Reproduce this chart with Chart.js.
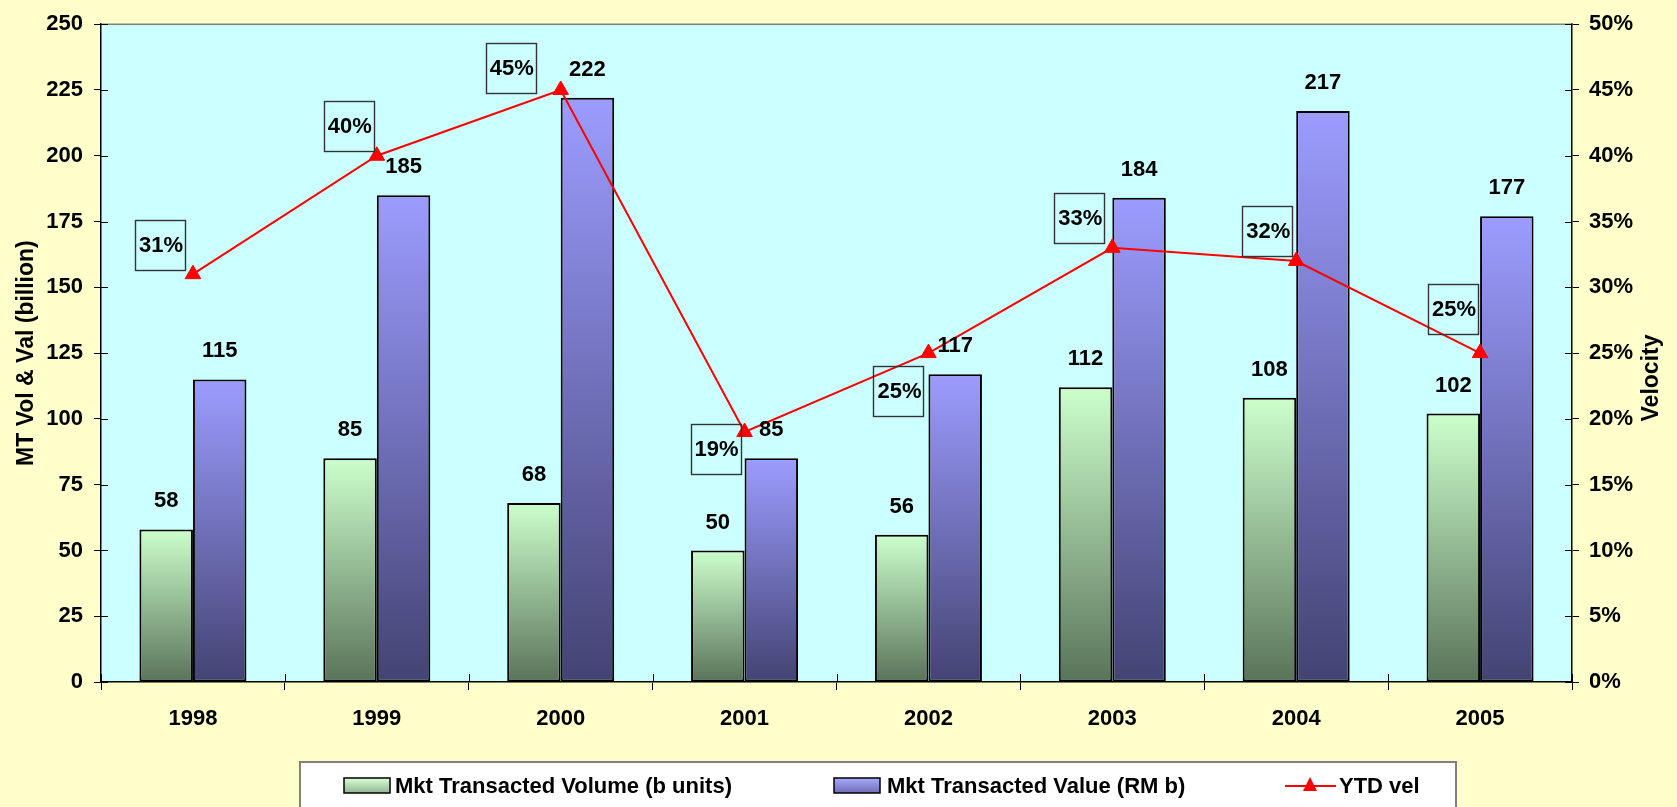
<!DOCTYPE html>
<html>
<head>
<meta charset="utf-8">
<title>MT Volume, Value and Velocity 1998-2005</title>
<script src="https://cdn.jsdelivr.net/npm/chart.js@4/dist/chart.umd.min.js"></script>
<style>
  html, body { margin: 0; padding: 0; background: #FFFFCC; }
  #wrap { width: 1677px; height: 807px; }
</style>
</head>
<body>
<div id="wrap"><canvas id="c" width="1677" height="807"></canvas></div>
<script>
// ---- data ----
const years = ['1998', '1999', '2000', '2001', '2002', '2003', '2004', '2005'];
const mktVolume = [58, 85, 68, 50, 56, 112, 108, 102];      // b units
const mktValue = [115, 185, 222, 85, 117, 184, 217, 177];   // RM b
const ytdVelocity = [31, 40, 45, 19, 25, 33, 32, 25];       // %
const seriesNames = ['Mkt Transacted Volume (b units)', 'Mkt Transacted Value (RM b)', 'YTD vel'];
const leftTitle = 'MT Vol & Val (billion)';
const rightTitle = 'Velocity';

// placement of the boxed velocity labels, relative to each point (px)
const velLabelShiftX = [-33, -28, -50, -29, -30, -33, -29, -27];
const velLabelShiftY = [-29, -30, -22, 17, 38, -30, -30, -44];

// ---- styling ----
const FONT = "'Liberation Sans', Arial, Helvetica, sans-serif";
const GREEN_TOP = '#CCFFCC', GREEN_BOTTOM = '#5A735A';
const BLUE_TOP = '#9C9CFF', BLUE_BOTTOM = '#434373';

function barGradient(top, bottom) {
  return function (ctx) {
    const chart = ctx.chart;
    if (!chart.chartArea || ctx.type !== 'data') return top;
    const ys = chart.scales.y;
    const yTop = ys.getPixelForValue(ctx.raw);
    const yBase = ys.getPixelForValue(0);
    if (!isFinite(yTop) || !isFinite(yBase) || yTop === yBase) return top;
    const g = chart.ctx.createLinearGradient(0, yTop, 0, yBase);
    g.addColorStop(0, top);
    g.addColorStop(1, bottom);
    return g;
  };
}

// plot background, frame, inner tick halves, axis titles
const framePlugin = {
  id: 'frame',
  beforeDraw(chart) {
    const { ctx, chartArea: a } = chart;
    ctx.save();
    ctx.fillStyle = '#CCFFFF';
    ctx.fillRect(a.left, a.top, a.right - a.left, a.bottom - a.top);
    ctx.restore();
  },
  afterDraw(chart) {
    const { ctx, chartArea: a, scales } = chart;
    ctx.save();
    // top edge of plot
    ctx.strokeStyle = '#808080';
    ctx.lineWidth = 1.5;
    ctx.beginPath();
    ctx.moveTo(a.left, a.top);
    ctx.lineTo(a.right, a.top);
    ctx.stroke();
    // inner halves of tick marks
    ctx.strokeStyle = '#000';
    ctx.lineWidth = 1;
    ctx.beginPath();
    scales.y.ticks.forEach(t => {
      const y = Math.round(scales.y.getPixelForValue(t.value)) + 0.5;
      ctx.moveTo(a.left, y); ctx.lineTo(a.left + 7, y);
    });
    scales.y1.ticks.forEach(t => {
      const y = Math.round(scales.y1.getPixelForValue(t.value)) + 0.5;
      ctx.moveTo(a.right - 7, y); ctx.lineTo(a.right, y);
    });
    const n = years.length;
    for (let i = 0; i <= n; i++) {
      const x = Math.round(a.left + (a.right - a.left) * i / n) + 0.5;
      ctx.moveTo(x, a.bottom); ctx.lineTo(x, a.bottom - 8);
    }
    ctx.stroke();

    // axis titles
    ctx.fillStyle = '#000';
    ctx.font = 'bold 23px ' + FONT;
    ctx.textAlign = 'center';
    ctx.textBaseline = 'middle';
    ctx.save();
    ctx.translate(27, (a.top + a.bottom) / 2);
    ctx.rotate(-Math.PI / 2);
    ctx.fillText(leftTitle, 0, 0);
    ctx.restore();
    ctx.save();
    ctx.translate(1652, 378);
    ctx.rotate(-Math.PI / 2);
    ctx.fillText(rightTitle, 0, 0);
    ctx.restore();
    ctx.restore();
  }
};

// value labels above bars and boxed labels at velocity points
const labelPlugin = {
  id: 'valueLabels',
  afterDatasetsDraw(chart) {
    const ctx = chart.ctx;
    ctx.save();
    ctx.font = 'bold 22px ' + FONT;
    ctx.fillStyle = '#000';
    ctx.textAlign = 'center';
    ctx.textBaseline = 'middle';
    [0, 1].forEach(di => {
      const meta = chart.getDatasetMeta(di);
      const vals = chart.data.datasets[di].data;
      meta.data.forEach((el, i) => {
        ctx.fillText(String(vals[i]), el.x, el.y - 28);
      });
    });
    const lineMeta = chart.getDatasetMeta(2);
    const vel = chart.data.datasets[2].data;
    lineMeta.data.forEach((el, i) => {
      const cx = el.x + velLabelShiftX[i];
      const cy = el.y + velLabelShiftY[i];
      ctx.strokeStyle = '#333333';
      ctx.lineWidth = 1.4;
      ctx.strokeRect(Math.round(cx - 25) + 0.5, Math.round(cy - 25) + 0.5, 50, 50);
      ctx.fillText(vel[i] + '%', cx + 1, cy + 1);
    });
    ctx.restore();
  }
};

// legend box along the bottom
const legendPlugin = {
  id: 'bottomLegend',
  afterDraw(chart) {
    const ctx = chart.ctx;
    ctx.save();
    ctx.fillStyle = '#FFFFFF';
    ctx.fillRect(300, 762, 1156, 60);
    ctx.strokeStyle = '#808080';
    ctx.lineWidth = 2;
    ctx.strokeRect(300, 762, 1156, 60);

    const cy = 786;
    const swatch = (x, top, bottom) => {
      const g = ctx.createLinearGradient(0, cy - 8, 0, cy + 8);
      g.addColorStop(0, top);
      g.addColorStop(1, bottom);
      ctx.fillStyle = g;
      ctx.fillRect(x, cy - 8, 46, 15);
      ctx.strokeStyle = '#000';
      ctx.lineWidth = 1.5;
      ctx.strokeRect(x, cy - 8, 46, 15);
    };
    swatch(344, '#D8FFD8', '#8FB08F');
    swatch(834, '#A8A8FF', '#6A6AB0');

    // line sample with marker
    ctx.strokeStyle = '#FF0000';
    ctx.lineWidth = 2;
    ctx.beginPath();
    ctx.moveTo(1285, cy); ctx.lineTo(1336, cy);
    ctx.stroke();
    ctx.fillStyle = '#FF0000';
    ctx.beginPath();
    ctx.moveTo(1310, cy - 9);
    ctx.lineTo(1317, cy + 5);
    ctx.lineTo(1303, cy + 5);
    ctx.closePath();
    ctx.fill();

    ctx.fillStyle = '#000';
    ctx.font = 'bold 22px ' + FONT;
    ctx.textAlign = 'left';
    ctx.textBaseline = 'middle';
    ctx.fillText(seriesNames[0], 395, cy + 1);
    ctx.fillText(seriesNames[1], 887, cy + 1);
    ctx.fillText(seriesNames[2], 1339, cy + 1);
    ctx.restore();
  }
};

const tickFont = { family: FONT, size: 22, weight: 'bold' };

new Chart(document.getElementById('c'), {
  data: {
    labels: years,
    datasets: [
      {
        type: 'bar',
        label: seriesNames[0],
        data: mktVolume,
        yAxisID: 'y',
        backgroundColor: barGradient(GREEN_TOP, GREEN_BOTTOM),
        borderColor: '#000',
        borderWidth: 2,
        borderSkipped: false,
        categoryPercentage: 0.582,
        barPercentage: 1.0,
        order: 2
      },
      {
        type: 'bar',
        label: seriesNames[1],
        data: mktValue,
        yAxisID: 'y',
        backgroundColor: barGradient(BLUE_TOP, BLUE_BOTTOM),
        borderColor: '#000',
        borderWidth: 2,
        borderSkipped: false,
        categoryPercentage: 0.582,
        barPercentage: 1.0,
        order: 2
      },
      {
        type: 'line',
        label: seriesNames[2],
        data: ytdVelocity,
        yAxisID: 'y1',
        borderColor: '#FF0000',
        backgroundColor: '#FF0000',
        borderWidth: 2,
        tension: 0,
        pointStyle: 'triangle',
        pointRadius: 9,
        pointBackgroundColor: '#FF0000',
        pointBorderColor: '#FF0000',
        pointBorderWidth: 1,
        order: 0
      }
    ]
  },
  options: {
    responsive: false,
    animation: false,
    layout: { padding: { top: 21, left: 0, right: 0, bottom: 0 } },
    plugins: {
      legend: { display: false },
      tooltip: { enabled: false }
    },
    scales: {
      x: {
        type: 'category',
        offset: true,
        grid: {
          offset: true,
          drawOnChartArea: false,
          drawTicks: true,
          tickLength: 8,
          color: '#000',
          lineWidth: 1
        },
        border: { display: true, color: '#000', width: 1.5 },
        ticks: { font: tickFont, color: '#000', padding: 16, maxRotation: 0 },
        afterFit: s => { s.height = 125; }
      },
      y: {
        type: 'linear',
        position: 'left',
        min: 0,
        max: 250,
        ticks: { stepSize: 25, font: tickFont, color: '#000', padding: 11 },
        grid: { drawOnChartArea: false, drawTicks: true, tickLength: 7, color: '#000' },
        border: { display: true, color: '#000', width: 1.5 },
        afterFit: s => { s.width = 101; }
      },
      y1: {
        type: 'linear',
        position: 'right',
        min: 0,
        max: 50,
        ticks: {
          stepSize: 5,
          font: tickFont,
          color: '#000',
          padding: 10,
          callback: v => v + '%'
        },
        grid: { drawOnChartArea: false, drawTicks: true, tickLength: 7, color: '#000' },
        border: { display: true, color: '#000', width: 1.5 },
        afterFit: s => { s.width = 105; }
      }
    }
  },
  plugins: [framePlugin, labelPlugin, legendPlugin]
});
</script>
</body>
</html>
